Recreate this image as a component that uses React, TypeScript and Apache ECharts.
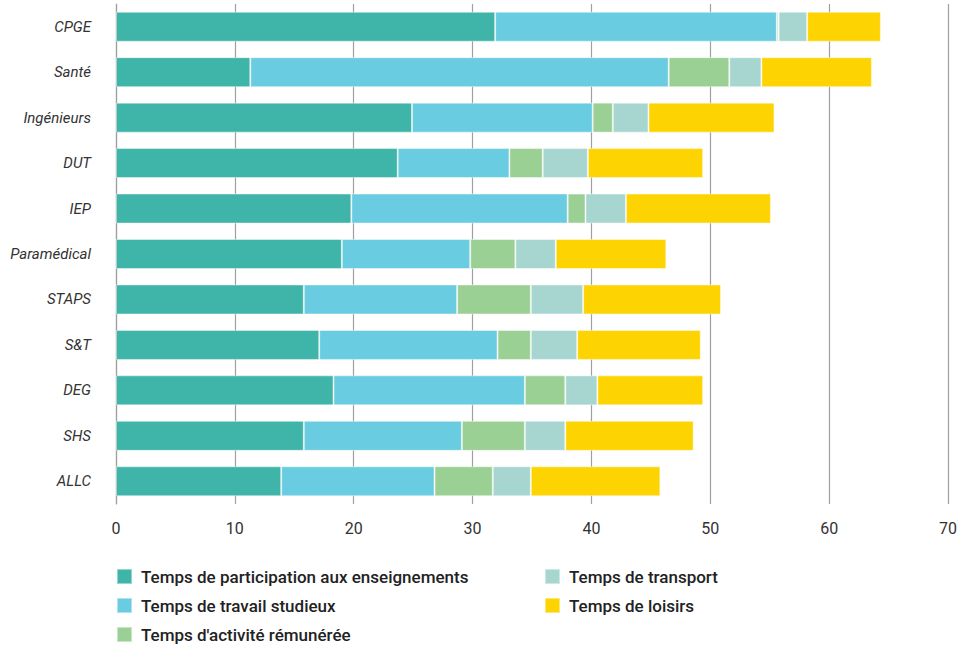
import React, { useEffect, useRef } from "react";
import * as echarts from "echarts";

const categories = ["CPGE", "Santé", "Ingénieurs", "DUT", "IEP", "Paramédical", "STAPS", "S&T", "DEG", "SHS", "ALLC"];
const participation = [31.9, 11.3, 24.9, 23.7, 19.8, 19.0, 15.8, 17.1, 18.3, 15.8, 13.9];
const travail = [23.7, 35.2, 15.2, 9.4, 18.2, 10.8, 12.9, 15.0, 16.1, 13.3, 12.9];
const activite = [0.15, 5.1, 1.7, 2.8, 1.5, 3.8, 6.2, 2.8, 3.4, 5.3, 4.9];
const transport = [2.4, 2.7, 3.0, 3.8, 3.4, 3.4, 4.4, 3.9, 2.7, 3.4, 3.2];
const loisirs = [6.2, 9.3, 10.6, 9.7, 12.2, 9.3, 11.6, 10.4, 8.9, 10.8, 10.9];

const seriesNames = [
  "Temps de participation aux enseignements",
  "Temps de travail studieux",
  "Temps d'activité rémunérée",
  "Temps de transport",
  "Temps de loisirs",
];
const seriesData = [participation, travail, activite, transport, loisirs];
const colors = ["#3fb4a8", "#69cce0", "#9bd095", "#a7d6d0", "#fdd402"];
// legend slot (column, row) for each series
const legendCol = [0, 0, 0, 1, 1];
const legendRow = [0, 1, 2, 0, 1];

export default function App() {
  const ref = useRef<HTMLDivElement>(null);
  useEffect(() => {
    document.body.style.margin = "0";
    if (!ref.current) return;
    const chart = echarts.init(ref.current, null, { renderer: "svg" });
    const legendText = {
      fontFamily: "Roboto, sans-serif",
      fontSize: 17,
      fontWeight: 500,
      color: "#222",
      padding: [0, 0, 0, 4],
    };
    chart.setOption({
      animation: false,
      color: colors,
      grid: { left: 116, right: 13, top: 4, bottom: 142, containLabel: false },
      xAxis: {
        type: "value",
        min: 0,
        max: 70,
        interval: 10,
        axisLine: { show: false },
        axisTick: { show: false },
        splitLine: { show: true, lineStyle: { color: "#a0a0a0", width: 1.2 } },
        axisLabel: {
          margin: 16,
          fontFamily: "Roboto, sans-serif",
          fontSize: 16,
          color: "#333",
        },
      },
      yAxis: {
        type: "category",
        data: categories,
        inverse: true,
        axisLine: { show: true, lineStyle: { color: "#a0a0a0", width: 1.2 } },
        axisTick: { show: false },
        axisLabel: {
          margin: 25,
          fontFamily: "Roboto, sans-serif",
          fontSize: 15,
          fontStyle: "italic",
          color: "#333",
        },
      },
      legend: seriesNames.map((name, i) => ({
        orient: "horizontal",
        left: legendCol[i] === 0 ? 116 : 544,
        top: 568 + legendRow[i] * 29,
        itemWidth: 15,
        itemHeight: 15,
        icon: "rect",
        padding: 0,
        data: [name],
        textStyle: legendText,
      })),
      series: seriesNames.map((name, i) => ({
        name,
        type: "bar",
        stack: "total",
        barCategoryGap: "34%",
        data: seriesData[i],
        itemStyle: { color: colors[i], borderColor: "rgba(255,255,255,0.45)", borderWidth: 1 },
        emphasis: { disabled: true },
      })),
    });
    return () => chart.dispose();
  }, []);
  return <div ref={ref} style={{ width: 961, height: 646 }} />;
}
